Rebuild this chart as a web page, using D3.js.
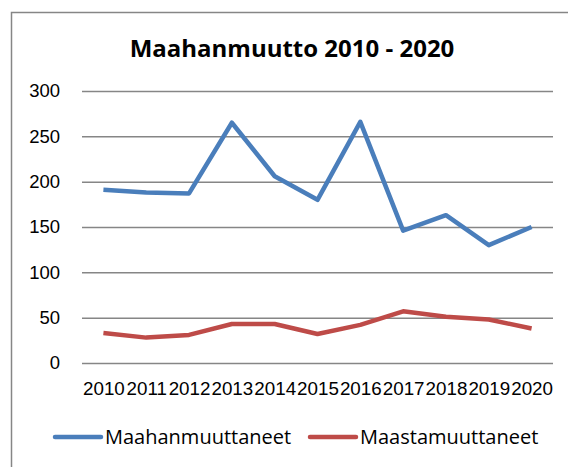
<!DOCTYPE html>
<html>
<head>
<meta charset="utf-8">
<script src="https://cdn.jsdelivr.net/npm/d3@7"></script>
<style>
  body { margin: 0; background: #fff; }
  svg { display: block; font-family: "Open Sans", sans-serif; }
</style>
</head>
<body>
<div id="chart"></div>
<script>
// Data
var years = ["2010","2011","2012","2013","2014","2015","2016","2017","2018","2019","2020"];
var maahanmuuttaneet = [191, 188, 187, 265, 206, 180, 266, 146, 163, 130, 150];
var maastamuuttaneet = [33, 28, 31, 43, 43, 32, 42, 57, 51, 48, 38];
var yTicks = [0, 50, 100, 150, 200, 250, 300];
var seriesNames = ["Maahanmuuttaneet", "Maastamuuttaneet"];
var seriesColors = ["#4a7ebb", "#be4b48"];

var width = 568, height = 467;
var plotLeft = 82, plotRight = 553, plotTop = 91, plotBottom = 363;

var svg = d3.select("#chart").append("svg")
    .attr("width", width)
    .attr("height", height);

// Outer chart frame (runs off the right and bottom)
svg.append("rect")
    .attr("x", 11.5).attr("y", 12.5)
    .attr("width", 600).attr("height", 500)
    .attr("fill", "none")
    .attr("stroke", "#868686")
    .attr("stroke-width", 1.5);

// Title
svg.append("text")
    .attr("x", 292).attr("y", 57)
    .attr("text-anchor", "middle")
    .style("font-size", "24px")
    .style("font-weight", "bold")
    .text("Maahanmuutto 2010 - 2020");

var x = d3.scalePoint()
    .domain(years)
    .range([plotLeft, plotRight])
    .padding(0.5);

var y = d3.scaleLinear()
    .domain([0, 300])
    .range([plotBottom, plotTop]);

// Y axis with gridlines
var yAxis = svg.append("g")
    .attr("transform", "translate(" + plotLeft + ",0)")
    .call(d3.axisLeft(y).tickValues(yTicks).tickSize(-(plotRight - plotLeft)).tickPadding(22));

yAxis.select(".domain").remove();
yAxis.selectAll(".tick line")
    .attr("stroke", "#868686")
    .attr("stroke-width", 1.5);
yAxis.selectAll(".tick text")
    .style("font-size", "18.5px")
    .attr("fill", "#000");

// X axis labels
var xAxis = svg.append("g")
    .attr("transform", "translate(0," + plotBottom + ")")
    .call(d3.axisBottom(x).tickSize(0).tickPadding(0));

xAxis.select(".domain").remove();
xAxis.selectAll(".tick text")
    .attr("dy", null)
    .attr("y", 32)
    .style("font-size", "18.8px")
    .attr("fill", "#000");

// Lines
var line = d3.line()
    .x(function(d, i) { return x(years[i]); })
    .y(function(d) { return y(d); });

[maahanmuuttaneet, maastamuuttaneet].forEach(function(series, k) {
  svg.append("path")
      .datum(series)
      .attr("d", line)
      .attr("fill", "none")
      .attr("stroke", seriesColors[k])
      .attr("stroke-width", 4.5)
      .attr("stroke-linejoin", "round");
});

// Legend
var legendX = [55, 310];
seriesNames.forEach(function(name, k) {
  var g = svg.append("g").attr("transform", "translate(" + legendX[k] + ",437)");
  g.append("line")
      .attr("x1", 0).attr("x2", 46)
      .attr("stroke", seriesColors[k])
      .attr("stroke-width", 4.5)
      .attr("stroke-linecap", "round");
  g.append("text")
      .attr("x", 50).attr("dy", "0.35em")
      .style("font-size", "20px")
      .text(name);
});
</script>
</body>
</html>
